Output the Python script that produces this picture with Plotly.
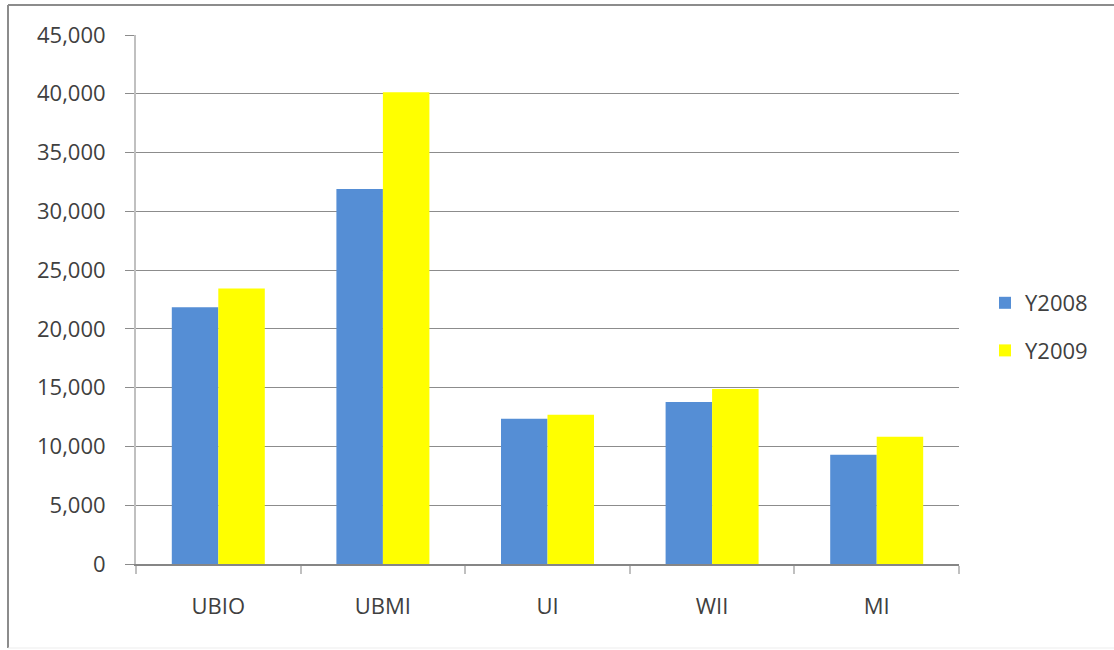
import plotly.graph_objects as go

categories = ["UBIO", "UBMI", "UI", "WII", "MI"]
y2008 = [21850, 31900, 12350, 13780, 9300]
y2009 = [23430, 40130, 12700, 14880, 10830]
series_names = ["Y2008", "Y2009"]
ytick_vals = [0, 5000, 10000, 15000, 20000, 25000, 30000, 35000, 40000, 45000]

W, H = 1114, 650
L, R, T, B = 136, 959, 35, 564

FONT = "Open Sans"
TXT = "#404040"
FS = 22

fig = go.Figure()
fig.add_trace(go.Bar(x=categories, y=y2008, name=series_names[0],
                     marker=dict(color="#558ED5", line=dict(width=0)),
                     legendgroup="a"))
fig.add_trace(go.Bar(x=categories, y=y2009, name=series_names[1],
                     marker=dict(color="#FFFF00", line=dict(width=0)),
                     legendgroup="b"))

def px_x(p):
    return (p - L) / (R - L)

def px_y(p):
    return (B - p) / (B - T)

fig.update_layout(
    width=W, height=H,
    margin=dict(l=L, r=W - R, t=T, b=H - B, pad=0),
    paper_bgcolor="white", plot_bgcolor="white",
    barmode="group", bargap=0.435, bargroupgap=0,
    font=dict(family=FONT, size=FS, color=TXT),
    showlegend=True,
    legend=dict(x=px_x(985), y=px_y(282), xanchor="left", yanchor="top",
                font=dict(family=FONT, size=FS, color=TXT),
                tracegroupgap=16, itemwidth=30, bgcolor="rgba(0,0,0,0)"),
    xaxis=dict(
        showgrid=False, showline=True, linecolor="#868686", linewidth=2,
        ticks="outside", tickson="boundaries", ticklen=8, tickcolor="#c0c0c0",
        tickwidth=2, ticklabelstandoff=22,
        tickfont=dict(family=FONT, size=FS, color=TXT),
    ),
    yaxis=dict(
        range=[0, 45000], tickvals=ytick_vals, tickformat=",d",
        showgrid=True, gridcolor="#8c8c8c", gridwidth=1,
        showline=True, linecolor="#c0c0c0", linewidth=2,
        ticks="outside", ticklen=9, tickcolor="#8c8c8c", tickwidth=1,
        ticklabelstandoff=15, zeroline=False,
        tickfont=dict(family=FONT, size=FS, color=TXT),
    ),
    shapes=[
        dict(type="line", xref="paper", yref="paper",
             x0=px_x(8), x1=px_x(8), y0=px_y(5), y1=px_y(648),
             line=dict(color="#8c8c8c", width=2)),
        dict(type="line", xref="paper", yref="paper",
             x0=px_x(8), x1=px_x(1114), y0=px_y(5), y1=px_y(5),
             line=dict(color="#8c8c8c", width=2)),
        dict(type="line", xref="paper", yref="paper",
             x0=px_x(8), x1=px_x(1114), y0=px_y(648), y1=px_y(648),
             line=dict(color="#ededed", width=1)),
    ],
)

fig.write_html("out.html", config={"displayModeBar": False})

# remove default browser body margin so the figure sits at the page origin
with open("out.html", "r", encoding="utf-8") as f:
    html = f.read()
html = html.replace("<body>", '<body style="margin:0;padding:0;overflow:hidden">', 1)
with open("out.html", "w", encoding="utf-8") as f:
    f.write(html)
